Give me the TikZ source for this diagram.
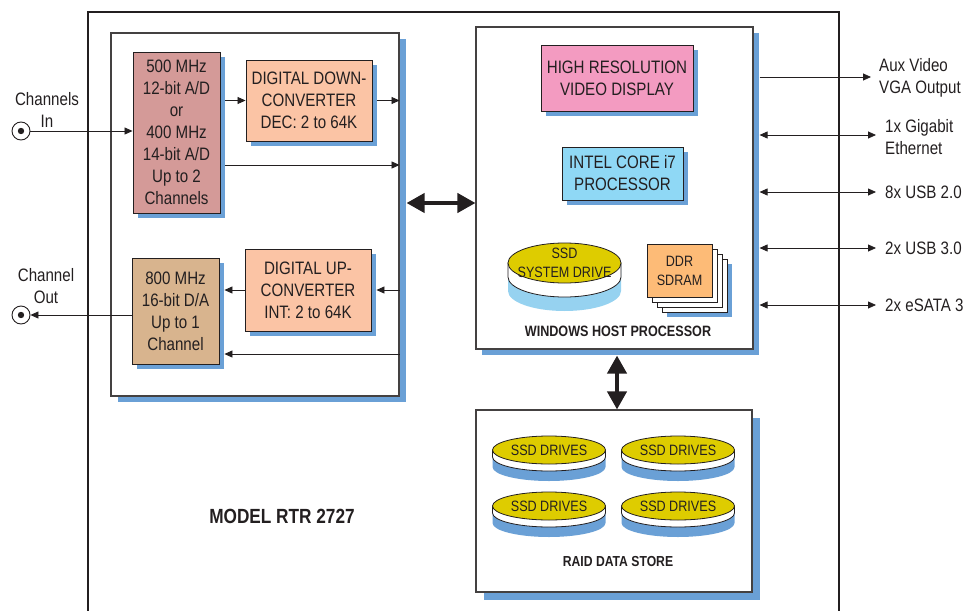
\documentclass[tikz,border=0pt]{standalone}
\usepackage{fontspec}
\setmainfont[FakeStretch=0.84]{Liberation Sans}
\usetikzlibrary{arrows.meta,shadows}
\definecolor{ink}{HTML}{231F20}
\definecolor{shblue}{HTML}{6AA0D6}
\definecolor{adcfill}{HTML}{D49A98}
\definecolor{convfill}{HTML}{FBC4A5}
\definecolor{dacfill}{HTML}{D8B48E}
\definecolor{pinkfill}{HTML}{F39BC1}
\definecolor{cpufill}{HTML}{8FD8F5}
\definecolor{ssdyellow}{HTML}{DECC00}
\definecolor{ssdlight}{HTML}{96D2F0}
\definecolor{ddrfill}{HTML}{FDBB77}
\newcommand{\drawdisk}[9]{%
  \fill[#8] (#2-#4,#3) -- (#2-#4,#3+#7) arc[start angle=180,end angle=0,x radius=#4,y radius=#5] -- (#2+#4,#3) -- cycle;
  \draw[ink,line width=0.8,fill=white] (#2-#4,#3) -- (#2-#4,#3+#6) arc[start angle=180,end angle=0,x radius=#4,y radius=#5] -- (#2+#4,#3) -- cycle;
  \draw[ink,line width=0.8,fill=ssdyellow] (#2,#3) ellipse[x radius=#4,y radius=#5];
  \node[smalltxt] (#1) at (#2,#3) {#9};
}
\tikzset{
  boxbase/.style={draw=ink,line width=0.9pt,inner sep=0pt,align=center,text=ink,font=\fontsize{18}{22}\selectfont},
  smallsh/.style={drop shadow={opacity=1,fill=shblue,shadow xshift=5pt,shadow yshift=-5pt}},
  panelbox/.style={draw=ink!85,line width=1.1pt,fill=white,inner sep=0pt},
  lbl/.style={inner sep=0pt,text=ink,font=\fontsize{18}{21.5}\selectfont},
  smalltxt/.style={inner sep=0pt,align=center,text=ink,font=\fontsize{15}{19}\selectfont},
  boldlbl/.style={inner sep=0pt,text=ink,font=\fontsize{15}{18}\selectfont\bfseries},
  arr/.style={draw=ink,line width=0.8pt,-{Triangle[length=8pt,width=7pt]}},
  darr/.style={draw=ink,line width=0.8pt,{Triangle[length=8pt,width=7pt]}-{Triangle[length=8pt,width=7pt]}},
  bigarr/.style={draw=ink,line width=4pt,{Triangle[length=18pt,width=19pt]}-{Triangle[length=18pt,width=19pt]}},
}
\begin{document}
\begin{tikzpicture}[x=1pt,y=-1pt]
\useasboundingbox (0,0) rectangle (976,610);
% outer frame
\draw[ink,line width=2.6pt] (88,615) -- (88,12) -- (839,12) -- (839,615);

% left panel
\node[panelbox,minimum width=288pt,minimum height=363pt,
  drop shadow={opacity=1,fill=shblue,shadow xshift=7pt,shadow yshift=-6pt}] (lp) at (255,214.5) {};
\node[boxbase,smallsh,fill=adcfill,minimum width=87pt,minimum height=161pt] (adc) at (176.5,132.5)
  {500 MHz\\12-bit A/D\\or\\400 MHz\\14-bit A/D\\Up to 2\\Channels};
\node[boxbase,smallsh,fill=convfill,minimum width=126pt,minimum height=81pt] (ddc) at (309,100.5)
  {DIGITAL DOWN-\\CONVERTER\\DEC: 2 to 64K};
\node[boxbase,smallsh,fill=convfill,minimum width=126pt,minimum height=82pt] (duc) at (308,290)
  {DIGITAL UP-\\CONVERTER\\INT: 2 to 64K};
\node[boxbase,smallsh,fill=dacfill,minimum width=87pt,minimum height=106pt] (dac) at (175.5,311)
  {800 MHz\\16-bit D/A\\Up to 1\\Channel};

% connectors
\node[circle,draw=ink,line width=0.9pt,minimum size=18pt,inner sep=0pt] (cin) at (21,131) {};
\fill[ink] (cin.center) circle (3.2);
\node[circle,draw=ink,line width=0.9pt,minimum size=18pt,inner sep=0pt] (cout) at (21,315) {};
\fill[ink] (cout.center) circle (3.2);
\node[lbl,align=center] (lin) at (47,110) {Channels\\In};
\node[lbl,align=center] (lout) at (46,286) {Channel\\Out};

\coordinate (y165) at (0,165);
\coordinate (y354) at (0,354);
\coordinate (y203) at (0,203);
\draw[arr] (cin.east) -- (adc.west |- cin.east);
\draw[arr] (dac.west |- cout.east) -- (cout.east);
\draw[arr] ([xshift=5pt]adc.east |- ddc.west) -- (ddc.west);
\draw[arr] ([xshift=5pt]ddc.east) -- (lp.east |- ddc.east);
\draw[arr] ([xshift=5pt]adc.east |- y165) -- (lp.east |- y165);
\draw[arr] (lp.east |- duc.east) -- ([xshift=5pt]duc.east);
\draw[arr] (duc.west) -- ([xshift=5pt]dac.east |- duc.west);
\draw[arr] (lp.east |- y354) -- ([xshift=5pt]dac.east |- y354);

% host panel
\node[panelbox,minimum width=277pt,minimum height=322pt,
  drop shadow={opacity=1,fill=shblue,shadow xshift=6pt,shadow yshift=-6pt}] (host) at (614.5,188) {};
\node[boxbase,smallsh,fill=pinkfill,minimum width=152pt,minimum height=66pt] (hr) at (617,78)
  {HIGH RESOLUTION\\VIDEO DISPLAY};
\node[boxbase,smallsh,fill=cpufill,minimum width=121pt,minimum height=53pt] (cpu) at (622.5,173.5)
  {INTEL CORE i7\\PROCESSOR};
\drawdisk{sysdrive}{564.5}{263}{56.5}{20}{14}{28}{ssdlight}{SSD\\SYSTEM DRIVE}
% DDR pages
\fill[shblue] (667,264) rectangle (732,317);
\foreach \o in {15,10,5}{\draw[ink,line width=0.7,fill=white] (647+\o,244+\o) rectangle (712+\o,297+\o);}
\node[draw=ink,line width=0.8pt,fill=ddrfill,inner sep=0pt,minimum width=65pt,minimum height=53pt,
  align=center,text=ink,font=\fontsize{15}{19}\selectfont] (ddr) at (679.5,270.5) {DDR\\SDRAM};
\node[boldlbl] (hostlbl) at (618,331) {WINDOWS HOST PROCESSOR};

\draw[bigarr] ([xshift=7pt]lp.east |- y203) -- (host.west |- y203);

% right side I/O
\coordinate (auxend) at (871,77);
\coordinate (gbend) at (876,135);
\coordinate (usb2end) at (876,192);
\coordinate (usb3end) at (876,248);
\coordinate (satend) at (876,305);
\draw[arr] ([xshift=6pt]host.east |- auxend) -- (auxend);
\draw[darr] ([xshift=6pt]host.east |- gbend) -- (gbend);
\draw[darr] ([xshift=6pt]host.east |- usb2end) -- (usb2end);
\draw[darr] ([xshift=6pt]host.east |- usb3end) -- (usb3end);
\draw[darr] ([xshift=6pt]host.east |- satend) -- (satend);
\node[lbl,anchor=west,align=left] (auxlbl) at (879,78) {Aux Video\\VGA Output};
\node[lbl,anchor=west,align=left] (gblbl) at (885,137) {1x Gigabit\\Ethernet};
\node[lbl,anchor=west] (usb2lbl) at (885,192) {8x USB 2.0};
\node[lbl,anchor=west] (usb3lbl) at (885,248) {2x USB 3.0};
\node[lbl,anchor=west] (satlbl) at (885,305) {2x eSATA 3};

% RAID
\node[panelbox,minimum width=276pt,minimum height=182pt,
  drop shadow={opacity=1,fill=shblue,shadow xshift=8pt,shadow yshift=-8pt}] (raid) at (614,501) {};
\draw[bigarr] ([xshift=2.5pt,yshift=-6pt]host.south) -- ([xshift=3pt]raid.north);
\drawdisk{d1}{549}{450}{56.5}{14}{7}{17}{shblue}{SSD DRIVES}
\drawdisk{d2}{678}{450}{56.5}{14}{7}{17}{shblue}{SSD DRIVES}
\drawdisk{d3}{549}{506}{56.5}{14}{7}{17}{shblue}{SSD DRIVES}
\drawdisk{d4}{678}{506}{56.5}{14}{7}{17}{shblue}{SSD DRIVES}
\node[boldlbl,font=\fontsize{14.5}{18}\selectfont\bfseries] (raidlbl) at (618,562) {RAID DATA STORE};

\node[boldlbl,font=\fontsize{20.5}{24}\selectfont\bfseries] (model) at (282,516) {MODEL RTR 2727};
\end{tikzpicture}
\end{document}
